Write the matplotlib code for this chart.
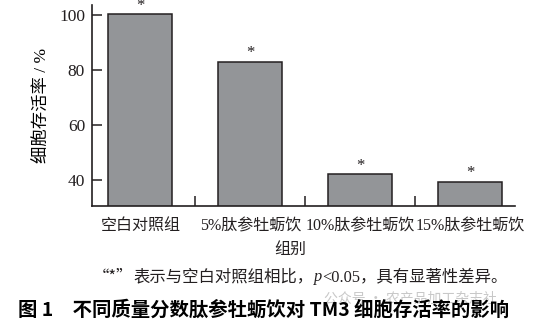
import matplotlib
matplotlib.use('Agg')
import matplotlib.pyplot as plt

# data
groups = ['空白对照组', '5%肽参牡蛎饮', '10%肽参牡蛎饮', '15%肽参牡蛎饮']
viability = [100.3, 83.0, 42.2, 39.5]
marks = ['*', '*', '*', '*']

ink = '#231f20'
fam = ['Liberation Serif', 'Noto Sans CJK SC']
cjk = ['Noto Sans CJK SC', 'Liberation Serif']
plt.rcParams['font.family'] = fam
plt.rcParams['text.color'] = ink
plt.rcParams['axes.edgecolor'] = ink
plt.rcParams['xtick.color'] = ink
plt.rcParams['ytick.color'] = ink

fig = plt.figure(figsize=(5.54, 3.20), dpi=100)
ax = fig.add_axes([92 / 554, 1 - 206 / 320, (515 - 92) / 554, 201 / 320])

x = list(range(len(groups)))
ax.bar(x, viability, width=0.58, color='#939598', edgecolor=ink, linewidth=1.1, zorder=2)
for xi, v, m in zip(x, viability, marks):
    ax.annotate(m, (xi, v), xytext=(0, 6), textcoords='offset points',
                ha='center', va='center', fontsize=12, annotation_clip=False)

ax.set_ylim(30.7, 103.5)
ax.set_xlim(-0.44, 3.41)
ax.set_yticks([40, 60, 80, 100])
ax.set_xticks([0.5, 1.5, 2.5])
ax.set_xticklabels([])
ax.tick_params(axis='both', direction='in', length=7, width=1.1, labelsize=12.5)
ax.tick_params(axis='y', pad=5)
for s in ['top', 'right']:
    ax.spines[s].set_visible(False)
for s in ['left', 'bottom']:
    ax.spines[s].set_linewidth(1.2)

# category labels under the bars
for xi, g in zip(x, groups):
    ax.text(xi, -0.1, g, transform=ax.get_xaxis_transform(), ha='center', va='center',
            fontsize=11.5)

ax.set_ylabel('细胞存活率 / %', fontsize=12.5, labelpad=6)
fig.text(290 / 554, 1 - 250 / 320, '组别', ha='center', va='center', fontsize=11.5)

# footnote in pieces: full-width quotes, italic p, CJK fallback elsewhere
fig.canvas.draw()
r = fig.canvas.get_renderer()
pieces = [('“*”', 'normal', cjk), ('表示与空白对照组相比，', 'normal', fam),
          ('p', 'italic', fam), ('<0.05，具有显著性差异。', 'normal', fam)]
xpos = 93
for txt, st, f in pieces:
    t = fig.text(xpos / 554, 1 - 277 / 320, txt, ha='left', va='center',
                 fontsize=11.8, fontstyle=st, family=f)
    xpos += t.get_window_extent(r).width

# watermark + caption
fig.text(497 / 554, 1 - 298 / 320, '公众号 · 农产品加工杂志社', ha='right', va='center',
         fontsize=10, color='#c8c8c8', family='Noto Sans CJK SC')
fig.text(18 / 554, 1 - 310 / 320, '图 1　不同质量分数肽参牡蛎饮对 TM3 细胞存活率的影响',
         ha='left', va='center', fontsize=13.95, fontweight='bold', color='black',
         family='Noto Sans CJK SC')

fig.savefig('out.png', dpi=100)
